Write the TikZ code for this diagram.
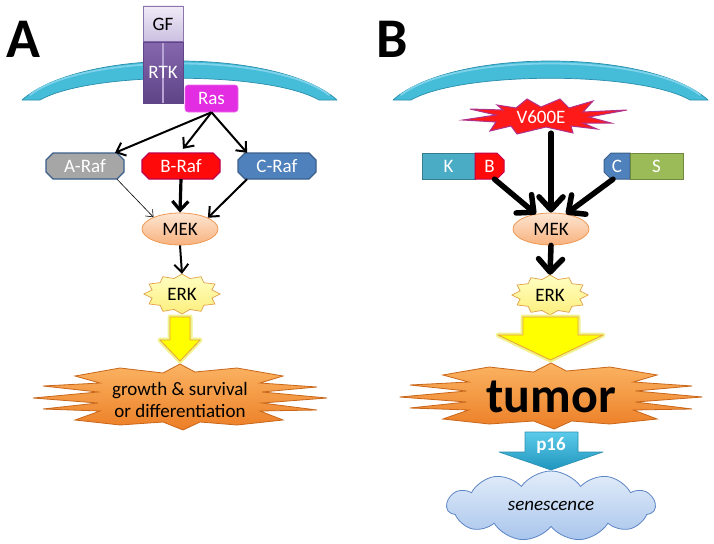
\documentclass[tikz,border=0pt]{standalone}
\usepackage{fontspec}
\setmainfont{Carlito}
\usetikzlibrary{shapes.geometric,shapes.symbols,arrows.meta,calc}
\definecolor{memfill}{HTML}{45BCD8}
\definecolor{memline}{HTML}{2A8EAC}
\definecolor{memhi}{HTML}{7ED3EA}
\definecolor{gftop}{HTML}{F0EBF7}
\definecolor{gfbot}{HTML}{CBBFE0}
\definecolor{gfline}{HTML}{8A76AA}
\definecolor{rtktop}{HTML}{8567AE}
\definecolor{rtkbot}{HTML}{5F4488}
\definecolor{rtkline}{HTML}{B7A4D3}
\definecolor{rasc}{HTML}{E22DE2}
\definecolor{blueline}{HTML}{3A5F8C}
\definecolor{arafc}{HTML}{A6A6A6}
\definecolor{brafc}{HTML}{FF0A0A}
\definecolor{brafline}{HTML}{C0004A}
\definecolor{crafc}{HTML}{4F81BD}
\definecolor{mektop}{HTML}{FDE5D2}
\definecolor{mekbot}{HTML}{F8B27E}
\definecolor{mekline}{HTML}{EE9A55}
\definecolor{erktop}{HTML}{FFFFC4}
\definecolor{erkbot}{HTML}{FCEE7C}
\definecolor{erkline}{HTML}{E2A04A}
\definecolor{yarrow}{HTML}{FFFF00}
\definecolor{yglow}{HTML}{F2F28C}
\definecolor{yline}{HTML}{E8A33C}
\definecolor{burtop}{HTML}{FBB463}
\definecolor{burbot}{HTML}{EC7E26}
\definecolor{burline}{HTML}{C8661A}
\definecolor{vfill}{HTML}{FF1A1A}
\definecolor{vline}{HTML}{B0308A}
\definecolor{kc}{HTML}{4BACC6}
\definecolor{kline}{HTML}{357D91}
\definecolor{sc}{HTML}{9BBB59}
\definecolor{sline}{HTML}{71893F}
\definecolor{ptop}{HTML}{5CCBEA}
\definecolor{pbot}{HTML}{1F95BD}
\definecolor{pline}{HTML}{2A8FB0}
\definecolor{cloudtop}{HTML}{E3EDFA}
\definecolor{cloudbot}{HTML}{A9C5EC}
\definecolor{cloudline}{HTML}{5B85C4}
% octagon: cx, cy, half width, half height, chamfer, style
\newcommand\octo[6]{\path[#6] ({#1-#3+#5},{#2-#4}) -- ({#1+#3-#5},{#2-#4}) -- ({#1+#3},{#2-#4+#5})
  -- ({#1+#3},{#2+#4-#5}) -- ({#1+#3-#5},{#2+#4}) -- ({#1-#3+#5},{#2+#4}) -- ({#1-#3},{#2+#4-#5})
  -- ({#1-#3},{#2-#4+#5}) -- cycle;}
\tikzset{
  membrane/.pic={
    \path[fill=memfill, draw=memline, line width=0.7pt, line join=round]
      (22,100) .. controls (80,48) and (279,48) .. (337,100) -- (319,100)
      .. controls (268,71) and (91,71) .. (40,100) -- cycle;
    \draw[memhi, line width=1.8pt, line cap=round]
      (30,95) .. controls (84,53) and (275,53) .. (329,95);
  },
  burst/.pic={
    \path[top color=burtop, bottom color=burbot, draw=burline, line width=0.8pt]
      (-60,-29) -- (-17,-24) -- (0,-33) -- (15,-25) -- (57,-29) -- (103,-21)
      -- (80,-14) -- (137,-10) -- (82,-5) -- (147,1) -- (82,6) -- (137,13)
      -- (80,14) -- (103,23) -- (57,28) -- (20,25) -- (3,33) -- (-17,25)
      -- (-60,28) -- (-105,23) -- (-80,14) -- (-137,12) -- (-82,6) -- (-147,1)
      -- (-82,-5) -- (-137,-11) -- (-80,-14) -- (-105,-21) -- cycle;
  },
  erkstar/.pic={
    \path[top color=erktop, bottom color=erkbot, draw=erkline, line width=0.7pt]
      plot[samples at={0,...,23}, variable=\k]
      ({(38-7*mod(\k,2))*cos(\k*15)}, {(20-4*mod(\k,2))*sin(\k*15)}) -- cycle;
  },
  raftext/.style={minimum width=78pt, minimum height=26pt, text=white},
  mekstyle/.style={ellipse, minimum width=76pt, minimum height=32pt,
    top color=mektop, bottom color=mekbot, draw=mekline, line width=0.8pt},
  erktext/.style={ellipse, minimum width=76pt, minimum height=40pt},
  fusebox/.style={minimum height=26pt, text=white},
  thinarr/.style={line width=0.6pt, -{Straight Barb[length=6pt,width=10pt]}},
  medarr/.style={line width=2pt, -{Straight Barb[length=8pt,width=14pt]}},
  thickarr/.style={line width=3.2pt, -{Straight Barb[length=9pt,width=16pt]}},
  hugearr/.style={line width=5.5pt, line cap=round, -{Straight Barb[length=13pt,width=24pt,line cap=round,line join=round]}},
  bigletter/.style={font=\fontsize{56}{60}\selectfont\bfseries, anchor=base}
}
\begin{document}
\begin{tikzpicture}[x=1pt, y=-1pt,
  every node/.style={font=\fontsize{19}{22}\selectfont, inner sep=0pt}]
\useasboundingbox (0,0) rectangle (714,543);

% ---------------- Panel A ----------------
\node[bigletter] (labA) at (23,57.5) {A};
\pic at (0,0) {membrane};
\node[draw=gfline, top color=gftop, bottom color=gfbot, line width=0.6pt,
  minimum width=40pt, minimum height=36pt] (gf) at (163,24) {GF};
\node[draw=rtkbot, top color=rtktop, bottom color=rtkbot, line width=0.6pt,
  minimum width=40pt, minimum height=61pt, text=white,
  path picture={\draw[rtkline, line width=1.2pt] (path picture bounding box.north) -- (path picture bounding box.south);}]
  (rtk) at (163,72.5) {RTK};
\node[rounded corners=3pt, fill=rasc, draw=rasc!70!white, line width=0.6pt,
  minimum width=53pt, minimum height=27pt, text=white] (ras) at (211.5,98.5) {Ras};

\octo{85}{166}{39}{13}{7}{fill=arafc, draw=blueline, line width=1.3pt}
\node[raftext] (arafA) at (85,166) {A-Raf};
\octo{181}{166}{39}{13}{7}{fill=brafc, draw=brafline, line width=1.3pt}
\node[raftext] (brafA) at (181,166) {B-Raf};
\octo{277}{166}{39}{13}{7}{fill=crafc, draw=blueline, line width=1.3pt}
\node[raftext] (crafA) at (277,166) {C-Raf};

\node[mekstyle] (mekA) at (180,229) {MEK};
\pic at (182,294) {erkstar};
\node[erktext] (erkA) at (182,294) {ERK};

\draw[medarr] (ras.south) -- ($(arafA.north)+(30,0)$);
\draw[medarr] (ras.south) -- ($(brafA.north)+(2,-4)$);
\draw[medarr] (ras.south) -- ($(crafA.north)+(-30,0)$);
\draw[thinarr] ($(arafA.south)+(32,0)$) -- (mekA.156);
\draw[thickarr] (brafA.south) -- (mekA.north);
\draw[medarr] ($(crafA.south)+(-30,0)$) -- (mekA.22);
\draw[medarr] (mekA.south) -- (erkA.north);

\draw[yglow, line width=5pt, line join=round]
  (170,317) -- (190,317) -- (190,340) -- (200,340) -- (180,361) -- (160,340) -- (170,340) -- cycle;
\draw[fill=yarrow, draw=yline, line width=0.8pt, line join=round]
  (170,317) -- (190,317) -- (190,340) -- (200,340) -- (180,361) -- (160,340) -- (170,340) -- cycle;

\pic at (180,397) {burst};
\node[align=center] (growth) at (180,400) {growth \& survival\\or differentiation};

% ---------------- Panel B ----------------
\node[bigletter] (labB) at (392.5,57.5) {B};
\pic at (371,0) {membrane};

\path[fill=vfill, draw=vline, line width=1pt, line join=miter, shift={(541,117)}]
  (-78,3) -- (-45,-2) -- (-71,-8) -- (-38,-7) -- (-44,-12) -- (-25,-9) -- (-14,-18)
  -- (0,-10) -- (19,-18) -- (28,-9) -- (52,-16) -- (42,-5) -- (86,-7) -- (48,0)
  -- (70,6) -- (42,6) -- (56,12) -- (30,9) -- (32,16) -- (5,10) -- (-24,17)
  -- (-30,9) -- (-51,14) -- (-45,5) -- cycle;
\node[minimum width=80pt, minimum height=32pt, text=white] (v600e) at (541,117) {V600E};

\path[fill=kc, draw=kline, line width=1pt] (422,153) rectangle (475,179);
\node[fusebox, minimum width=53pt] (kB) at (448.5,166) {K};
\path[fill=brafc, draw=brafline, line width=1pt]
  (475,153) -- (497,153) -- (504,160) -- (504,172) -- (497,179) -- (475,179) -- cycle;
\node[fusebox, minimum width=29pt] (bB) at (489.5,166) {B};
\path[fill=crafc, draw=blueline, line width=1pt]
  (611,153) -- (630,153) -- (630,179) -- (611,179) -- (604,172) -- (604,160) -- cycle;
\node[fusebox, minimum width=26pt] (cB) at (617,166) {C};
\path[fill=sc, draw=sline, line width=1pt] (630,153) rectangle (683,179);
\node[fusebox, minimum width=53pt] (sB) at (656.5,166) {S};

\node[mekstyle] (mekB) at (551,229) {MEK};
\pic at (550,295) {erkstar};
\node[erktext] (erkB) at (550,295) {ERK};

\draw[hugearr] (mekB.north |- v600e.south) -- (mekB.north);
\draw[hugearr] ($(bB.south)+(5,0)$) -- (mekB.135);
\draw[hugearr] ($(cB.south)+(-4,0)$) -- (mekB.45);
\draw[hugearr] (mekB.south) -- (erkB.north);

\draw[yglow, line width=5pt, line join=round]
  (523,317) -- (578,317) -- (578,335) -- (603,335) -- (550.5,360) -- (498,335) -- (523,335) -- cycle;
\draw[fill=yarrow, draw=yline, line width=0.8pt, line join=round]
  (523,317) -- (578,317) -- (578,335) -- (603,335) -- (550.5,360) -- (498,335) -- (523,335) -- cycle;

\pic[xscale=1.03] at (551,396) {burst};
\node[font=\fontsize{50}{54}\selectfont\bfseries, anchor=base] (tumor) at (551,412) {tumor};

\path[top color=ptop, bottom color=pbot, draw=pline, line width=0.6pt, line join=round]
  (525,432) -- (578,432) -- (578,452) -- (603,452) -- (551,470) -- (499,452) -- (525,452) -- cycle;
\node[text=white, font=\fontsize{19}{22}\selectfont\bfseries] (p16) at (551,446) {p16};

\node[cloud, cloud puffs=11, cloud puff arc=110, cloud ignores aspect,
  minimum width=208pt, minimum height=70pt, top color=cloudtop, bottom color=cloudbot,
  draw=cloudline, line width=0.8pt] (sen) at (551,506) {\itshape senescence};
\end{tikzpicture}
\end{document}
